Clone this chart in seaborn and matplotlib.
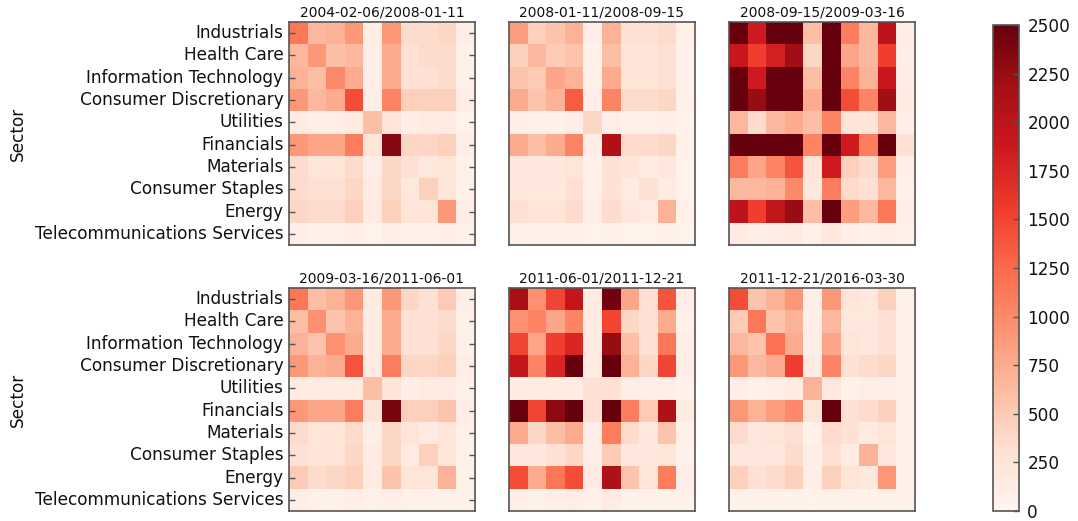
import numpy as np
import pandas as pd
import matplotlib
matplotlib.use("Agg")
import matplotlib.pyplot as plt
import seaborn as sns

sectors = ["Industrials", "Health Care", "Information Technology",
           "Consumer Discretionary", "Utilities", "Financials", "Materials",
           "Consumer Staples", "Energy", "Telecommunications Services"]

periods = ["2004-02-06/2008-01-11", "2008-01-11/2008-09-15", "2008-09-15/2009-03-16",
           "2009-03-16/2011-06-01", "2011-06-01/2011-12-21", "2011-12-21/2016-03-30"]

cov_2004_2008 = [
    [1150, 650, 700, 900, 120, 900, 350, 350, 400, 100],
    [650, 900, 600, 650, 100, 750, 300, 350, 350, 80],
    [700, 600, 1000, 750, 100, 750, 300, 300, 350, 80],
    [900, 650, 750, 1450, 100, 1050, 450, 450, 450, 100],
    [150, 100, 100, 150, 600, 250, 100, 150, 150, 50],
    [900, 800, 800, 1100, 250, 2350, 400, 400, 450, 100],
    [350, 250, 250, 350, 100, 400, 300, 200, 250, 80],
    [350, 300, 300, 400, 150, 400, 200, 450, 250, 80],
    [400, 350, 350, 450, 150, 450, 250, 250, 900, 100],
    [100, 80, 80, 100, 50, 100, 80, 80, 100, 60],
]
cov_2008_a = [
    [850, 450, 550, 700, 100, 700, 300, 300, 350, 80],
    [450, 650, 500, 550, 80, 600, 250, 250, 300, 60],
    [550, 500, 800, 700, 80, 750, 250, 250, 300, 60],
    [750, 550, 700, 1350, 100, 1050, 350, 350, 400, 80],
    [100, 80, 80, 100, 400, 100, 80, 80, 100, 50],
    [750, 600, 750, 1050, 100, 2100, 350, 350, 400, 80],
    [200, 200, 200, 250, 80, 300, 250, 150, 200, 50],
    [200, 200, 200, 300, 80, 300, 150, 300, 150, 50],
    [300, 250, 250, 350, 100, 350, 200, 150, 700, 80],
    [80, 60, 60, 80, 50, 80, 50, 50, 80, 50],
]
cov_2008_b = [
    [2500, 1850, 2500, 2500, 600, 2500, 1100, 650, 2000, 120],
    [1900, 1550, 1800, 2200, 400, 2500, 800, 650, 1550, 100],
    [2500, 1850, 2500, 2500, 600, 2500, 1050, 700, 1900, 120],
    [2500, 2250, 2500, 2500, 750, 2500, 1450, 1050, 2200, 150],
    [650, 350, 650, 750, 600, 1050, 250, 250, 650, 100],
    [2500, 2500, 2500, 2500, 1050, 2500, 1850, 1100, 2500, 300],
    [1100, 800, 1050, 1400, 250, 1850, 450, 350, 850, 100],
    [650, 650, 700, 1000, 200, 1100, 350, 300, 650, 80],
    [2000, 1550, 1950, 2250, 600, 2500, 850, 650, 1150, 100],
    [150, 100, 120, 150, 80, 200, 100, 80, 100, 60],
]
cov_2009_2011 = [
    [1150, 600, 700, 900, 150, 900, 400, 300, 500, 100],
    [600, 950, 550, 700, 150, 750, 300, 300, 350, 80],
    [700, 550, 950, 750, 150, 750, 300, 300, 400, 80],
    [900, 700, 750, 1400, 150, 1100, 400, 400, 450, 100],
    [150, 150, 150, 150, 600, 250, 100, 150, 150, 60],
    [900, 800, 800, 1100, 250, 2400, 450, 450, 550, 100],
    [350, 250, 250, 350, 100, 400, 250, 150, 250, 60],
    [300, 250, 250, 400, 150, 400, 150, 450, 250, 60],
    [500, 350, 400, 450, 150, 550, 250, 250, 700, 80],
    [100, 80, 80, 100, 60, 100, 60, 60, 80, 60],
]
cov_2011 = [
    [2150, 950, 1500, 1950, 150, 2450, 800, 300, 1400, 100],
    [950, 1050, 800, 1050, 150, 1500, 400, 300, 750, 80],
    [1500, 800, 1550, 1750, 150, 2250, 600, 300, 1150, 100],
    [1950, 1050, 1750, 2500, 150, 2500, 700, 400, 1500, 120],
    [150, 150, 150, 150, 300, 300, 100, 100, 100, 60],
    [2500, 1500, 2300, 2500, 300, 2500, 1100, 500, 2100, 150],
    [750, 400, 600, 750, 100, 1100, 350, 200, 550, 80],
    [200, 200, 300, 400, 100, 500, 200, 200, 250, 60],
    [1450, 750, 1150, 1450, 150, 2100, 550, 250, 1100, 100],
    [100, 80, 100, 120, 60, 150, 80, 60, 80, 60],
]
cov_2012_2016 = [
    [1450, 550, 700, 900, 100, 900, 250, 200, 450, 80],
    [500, 1150, 550, 700, 100, 650, 200, 200, 300, 60],
    [650, 550, 1200, 750, 100, 800, 250, 200, 300, 60],
    [900, 650, 750, 1550, 150, 1050, 300, 350, 400, 80],
    [100, 80, 100, 150, 700, 200, 80, 100, 100, 60],
    [900, 700, 850, 1000, 250, 2500, 300, 350, 450, 80],
    [350, 200, 250, 300, 80, 350, 300, 150, 250, 60],
    [200, 200, 200, 350, 100, 300, 150, 700, 200, 60],
    [450, 300, 350, 450, 100, 450, 250, 200, 900, 80],
    [80, 60, 60, 80, 50, 80, 60, 60, 80, 60],
]

matrices = [cov_2004_2008, cov_2008_a, cov_2008_b, cov_2009_2011, cov_2011, cov_2012_2016]
cbar_ticks = [0, 250, 500, 750, 1000, 1250, 1500, 1750, 2000, 2250, 2500]

sns.set_style("white")
plt.rcParams['font.family'] = ['DejaVu Sans']
plt.rcParams['text.color'] = '#111111'
plt.rcParams['axes.labelcolor'] = '#111111'
plt.rcParams['xtick.color'] = '#111111'
plt.rcParams['ytick.color'] = '#111111'

W, H = 1078, 521
fig = plt.figure(figsize=(W / 100, H / 100), dpi=100)

lefts = [289, 509, 729]
tops = [22, 288]
pw, ph = 186, 223
spine_col = "#555555"
label_fs = 12.2

cax = fig.add_axes([993 / W, 1 - 511 / H, 26 / W, 486 / H])
cbar_obj = None

for i, (mat, title) in enumerate(zip(matrices, periods)):
    r, c = divmod(i, 3)
    ax = fig.add_axes([lefts[c] / W, 1 - (tops[r] + ph) / H, pw / W, ph / H])
    df = pd.DataFrame(mat, index=sectors, columns=sectors)
    sns.heatmap(df, ax=ax, cmap="Reds", vmin=0, vmax=2500,
                cbar=(i == 0), cbar_ax=cax if i == 0 else None,
                xticklabels=False, yticklabels=(c == 0))
    if i == 0:
        cbar_obj = ax.collections[0].colorbar
    ax.set_axisbelow(False)
    ax.set_title(title, fontsize=10, pad=4, color='#111111')
    for s in ax.spines.values():
        s.set_visible(True)
        s.set_color(spine_col)
        s.set_linewidth(1.2)
        s.set_zorder(5)
    ax.tick_params(axis='y', direction='in', left=True, right=True,
                   length=4, width=1, color=spine_col, labelsize=label_fs, pad=4,
                   labelcolor='#111111')
    ax.tick_params(axis='x', bottom=False, top=False)
    if c == 0:
        ax.set_yticklabels(sectors, rotation=0, fontsize=label_fs)
        ax.set_ylabel("Sector", fontsize=label_fs, labelpad=6)
    else:
        ax.set_ylabel("")
    ax.set_xlabel("")

cbar_obj.set_ticks(cbar_ticks)
cbar_obj.set_ticklabels([str(t) for t in cbar_ticks])
cax.set_axisbelow(False)
cax.tick_params(axis='y', direction='in', right=True, left=False, length=4,
                width=1, color=spine_col, labelsize=label_fs, pad=6,
                labelcolor='#111111')
cbar_obj.outline.set_visible(True)
cbar_obj.outline.set_edgecolor(spine_col)
cbar_obj.outline.set_linewidth(1.2)

fig.savefig("out.png", dpi=100)
